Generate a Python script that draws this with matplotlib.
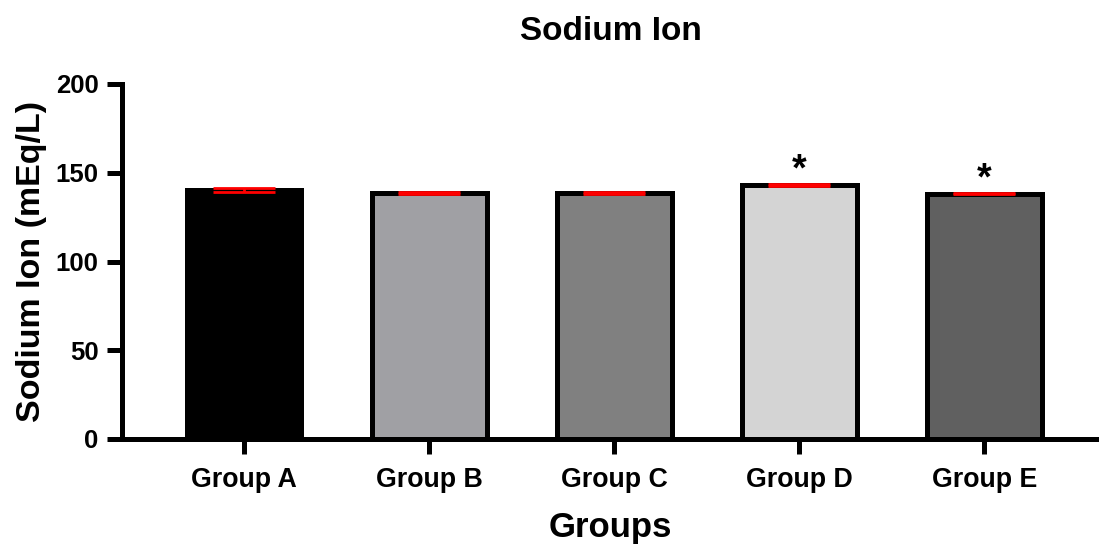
import matplotlib.pyplot as plt
import numpy as np

plt.rcParams['font.family'] = ['Liberation Sans', 'DejaVu Sans']
plt.rcParams['font.weight'] = 'bold'

groups = ["Group A", "Group B", "Group C", "Group D", "Group E"]
means = [140.5, 138.8, 138.8, 143.3, 138.3]
errors = [1.1, 0.5, 0.5, 0.5, 0.5]
colors = ['#000000', '#a0a0a4', '#808080', '#d4d4d4', '#606060']
signif = ["", "", "", "*", "*"]

fig = plt.figure(figsize=(10.99, 5.48), dpi=100)
ax = fig.add_axes([122/1099, (548-439)/548, (1099-122)/1099, 355/548])

x = np.arange(len(groups))
ax.bar(x, means, width=0.62, color=colors, edgecolor='black', linewidth=3.6, zorder=2)
ax.errorbar(x, means, yerr=errors, fmt='none', ecolor='red', elinewidth=2,
            capsize=22, capthick=2, zorder=3)
for xi, m, e, s in zip(x, means, errors, signif):
    if s:
        ax.text(xi, m + e - 2.5, s, ha='center', va='bottom', fontsize=27, fontweight='bold')

ax.set_xlim(-0.66, 4.62)
ax.set_ylim(0, 200)
ax.set_yticks([0, 50, 100, 150, 200])
ax.set_xticks(x)
ax.set_xticklabels(groups)

for side in ['top', 'right']:
    ax.spines[side].set_visible(False)
for side in ['left', 'bottom']:
    ax.spines[side].set_linewidth(3.6)
ax.tick_params(axis='both', width=3.6, length=11, labelsize=18.5, pad=6)
ax.tick_params(axis='x', labelsize=19.3, pad=9)

ax.set_title("Sodium Ion", fontsize=24, fontweight='bold', pad=32)
ax.set_ylabel("Sodium Ion (mEq/L)", fontsize=24.5, fontweight='bold', labelpad=6)
ax.set_xlabel("Groups", fontsize=25, fontweight='bold', labelpad=13)

fig.savefig("out.png", dpi=100)
